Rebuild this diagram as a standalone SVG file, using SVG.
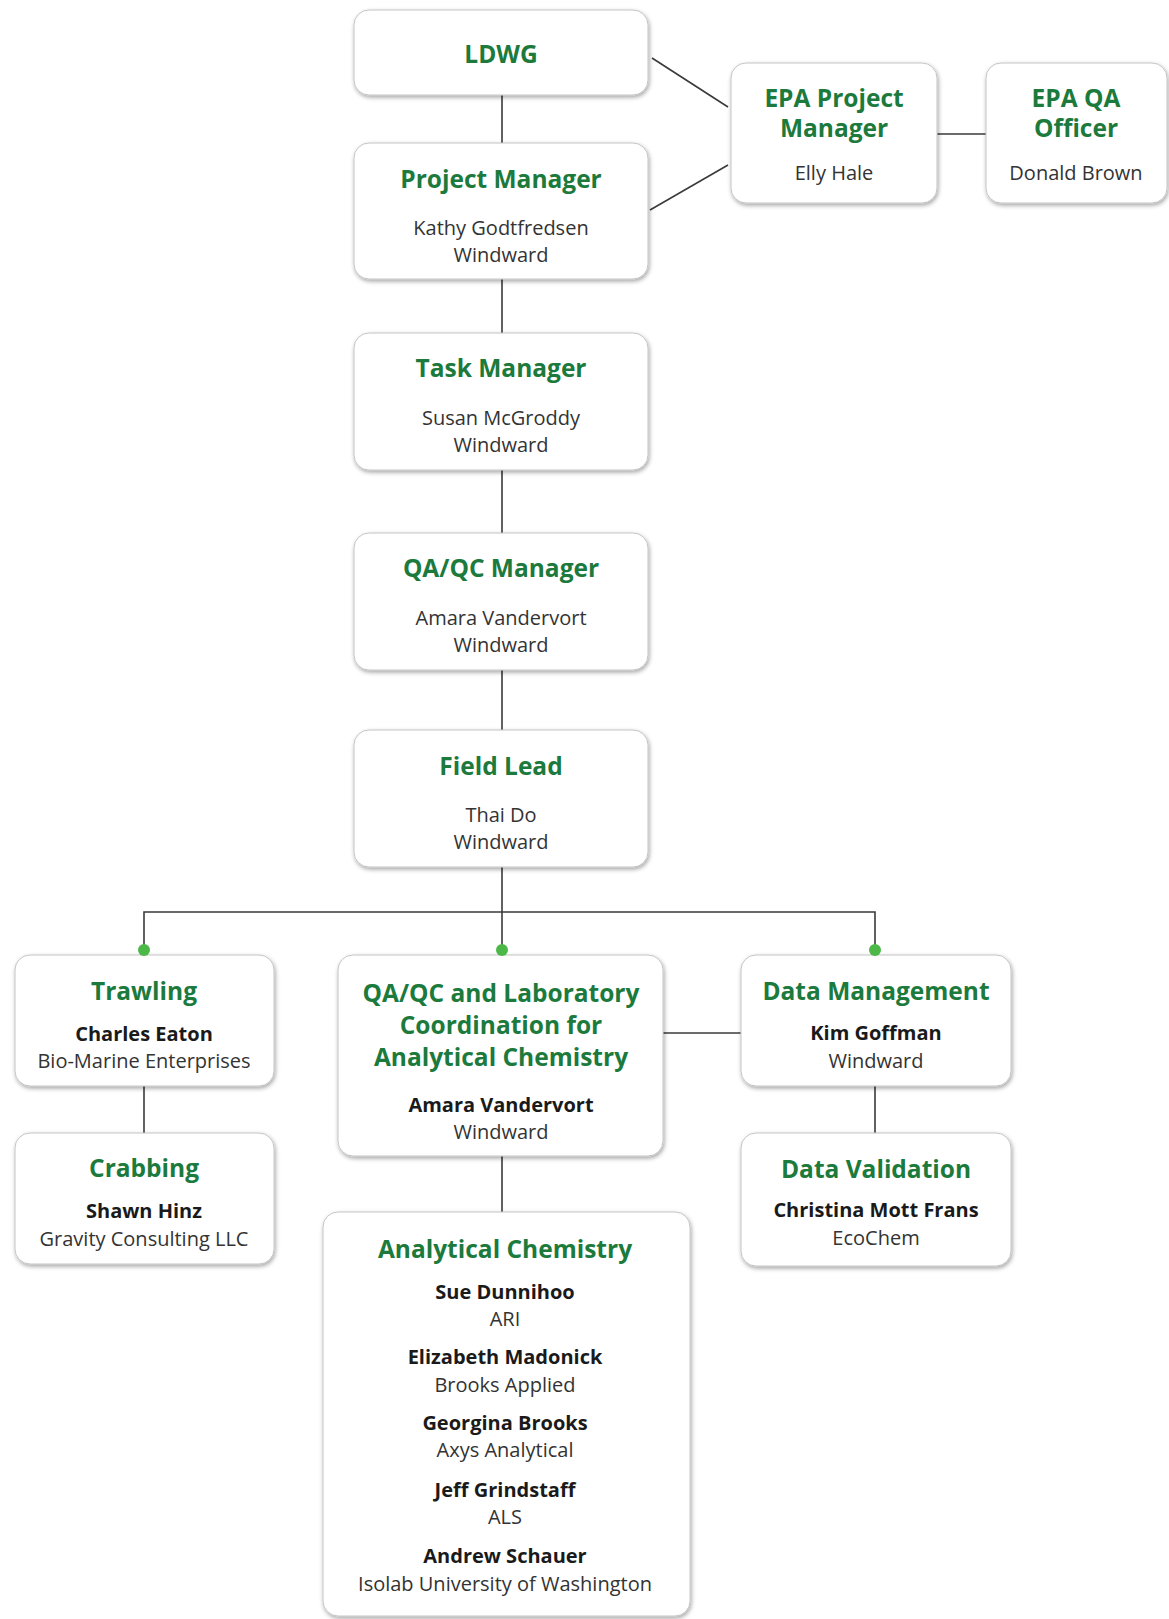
<svg xmlns="http://www.w3.org/2000/svg" width="1169" height="1619" viewBox="0 0 1169 1619">
<defs>
<filter id="sh" x="-10%" y="-10%" width="120%" height="125%">
<feDropShadow dx="1" dy="2" stdDeviation="2.2" flood-color="#000" flood-opacity="0.35"/>
</filter>
<style>
.box{fill:#fff;stroke:#c4c4c4;stroke-width:1;filter:url(#sh)}
.t{font-family:"Open Sans","Noto Sans","Liberation Sans",sans-serif;font-weight:700;font-size:24.5px;fill:#1b7a3c;text-anchor:middle}
.n{font-family:"Open Sans","Noto Sans","Liberation Sans",sans-serif;font-weight:400;font-size:20px;fill:#333;text-anchor:middle}
.b{font-family:"Open Sans","Noto Sans","Liberation Sans",sans-serif;font-weight:700;font-size:20px;fill:#1a1a1a;text-anchor:middle}
.c{stroke:#3a3a3a;stroke-width:1.6;fill:none}
.dot{fill:#4cb848}
</style>
</defs>
<rect width="1169" height="1619" fill="#fff"/>
<g id="connectors">
<line class="c" x1="502" y1="95" x2="502" y2="143"/>
<line class="c" x1="502" y1="279" x2="502" y2="333"/>
<line class="c" x1="502" y1="470" x2="502" y2="533"/>
<line class="c" x1="502" y1="670" x2="502" y2="730"/>
<line class="c" x1="502" y1="867" x2="502" y2="955"/>
<polyline class="c" points="144,955 144,912 875,912 875,955"/>
<line class="c" x1="652" y1="58" x2="728" y2="107"/>
<line class="c" x1="650" y1="210" x2="728" y2="165"/>
<line class="c" x1="937" y1="134" x2="986" y2="134"/>
<line class="c" x1="144" y1="1086" x2="144" y2="1133"/>
<line class="c" x1="875" y1="1086" x2="875" y2="1133"/>
<line class="c" x1="663" y1="1033" x2="741" y2="1033"/>
<line class="c" x1="502" y1="1156" x2="502" y2="1212"/>
</g>
<g id="ldwg">
<rect class="box" x="354" y="10" width="294" height="85" rx="15"/>
<text class="t" x="501" y="63">LDWG</text>
</g>
<g id="project-manager">
<rect class="box" x="354" y="143" width="294" height="136" rx="15"/>
<text class="t" x="501" y="188">Project Manager</text>
<text class="n" x="501" y="235">Kathy Godtfredsen</text>
<text class="n" x="501" y="262">Windward</text>
</g>
<g id="epa-project-manager">
<rect class="box" x="731" y="63" width="206" height="140" rx="15"/>
<text class="t" x="834" y="107">EPA Project</text>
<text class="t" x="834" y="137">Manager</text>
<text class="n" x="834" y="180">Elly Hale</text>
</g>
<g id="epa-qa-officer">
<rect class="box" x="986" y="63" width="181" height="140" rx="15"/>
<text class="t" x="1076" y="107">EPA QA</text>
<text class="t" x="1076" y="137">Officer</text>
<text class="n" x="1076" y="180">Donald Brown</text>
</g>
<g id="task-manager">
<rect class="box" x="354" y="333" width="294" height="137" rx="15"/>
<text class="t" x="501" y="377">Task Manager</text>
<text class="n" x="501" y="425">Susan McGroddy</text>
<text class="n" x="501" y="452">Windward</text>
</g>
<g id="qaqc-manager">
<rect class="box" x="354" y="533" width="294" height="137" rx="15"/>
<text class="t" x="501" y="577">QA/QC Manager</text>
<text class="n" x="501" y="625">Amara Vandervort</text>
<text class="n" x="501" y="652">Windward</text>
</g>
<g id="field-lead">
<rect class="box" x="354" y="730" width="294" height="137" rx="15"/>
<text class="t" x="501" y="775">Field Lead</text>
<text class="n" x="501" y="822">Thai Do</text>
<text class="n" x="501" y="849">Windward</text>
</g>
<g id="trawling">
<rect class="box" x="15" y="955" width="259" height="131" rx="15"/>
<text class="t" x="144" y="1000">Trawling</text>
<text class="b" x="144" y="1041">Charles Eaton</text>
<text class="n" x="144" y="1068">Bio-Marine Enterprises</text>
</g>
<g id="crabbing">
<rect class="box" x="15" y="1133" width="259" height="131" rx="15"/>
<text class="t" x="144" y="1177">Crabbing</text>
<text class="b" x="144" y="1218">Shawn Hinz</text>
<text class="n" x="144" y="1246">Gravity Consulting LLC</text>
</g>
<g id="qaqc-lab-coordination">
<rect class="box" x="338" y="955" width="325" height="201" rx="15"/>
<text class="t" x="501" y="1002">QA/QC and Laboratory</text>
<text class="t" x="501" y="1034">Coordination for</text>
<text class="t" x="501" y="1066">Analytical Chemistry</text>
<text class="b" x="501" y="1112">Amara Vandervort</text>
<text class="n" x="501" y="1139">Windward</text>
</g>
<g id="data-management">
<rect class="box" x="741" y="955" width="270" height="131" rx="15"/>
<text class="t" x="876" y="1000">Data Management</text>
<text class="b" x="876" y="1040">Kim Goffman</text>
<text class="n" x="876" y="1068">Windward</text>
</g>
<g id="data-validation">
<rect class="box" x="741" y="1133" width="270" height="133" rx="15"/>
<text class="t" x="876" y="1178">Data Validation</text>
<text class="b" x="876" y="1217">Christina Mott Frans</text>
<text class="n" x="876" y="1245">EcoChem</text>
</g>
<g id="analytical-chemistry">
<rect class="box" x="323" y="1212" width="367" height="404" rx="15"/>
<text class="t" x="505" y="1258">Analytical Chemistry</text>
<text class="b" x="505" y="1299">Sue Dunnihoo</text>
<text class="n" x="505" y="1326">ARI</text>
<text class="b" x="505" y="1364">Elizabeth Madonick</text>
<text class="n" x="505" y="1392">Brooks Applied</text>
<text class="b" x="505" y="1430">Georgina Brooks</text>
<text class="n" x="505" y="1457">Axys Analytical</text>
<text class="b" x="505" y="1497">Jeff Grindstaff</text>
<text class="n" x="505" y="1524">ALS</text>
<text class="b" x="505" y="1563">Andrew Schauer</text>
<text class="n" x="505" y="1591">Isolab University of Washington</text>
</g>
<g id="junction-dots">
<circle class="dot" cx="144" cy="950" r="6"/>
<circle class="dot" cx="502" cy="950" r="6"/>
<circle class="dot" cx="875" cy="950" r="6"/>
</g>
</svg>
